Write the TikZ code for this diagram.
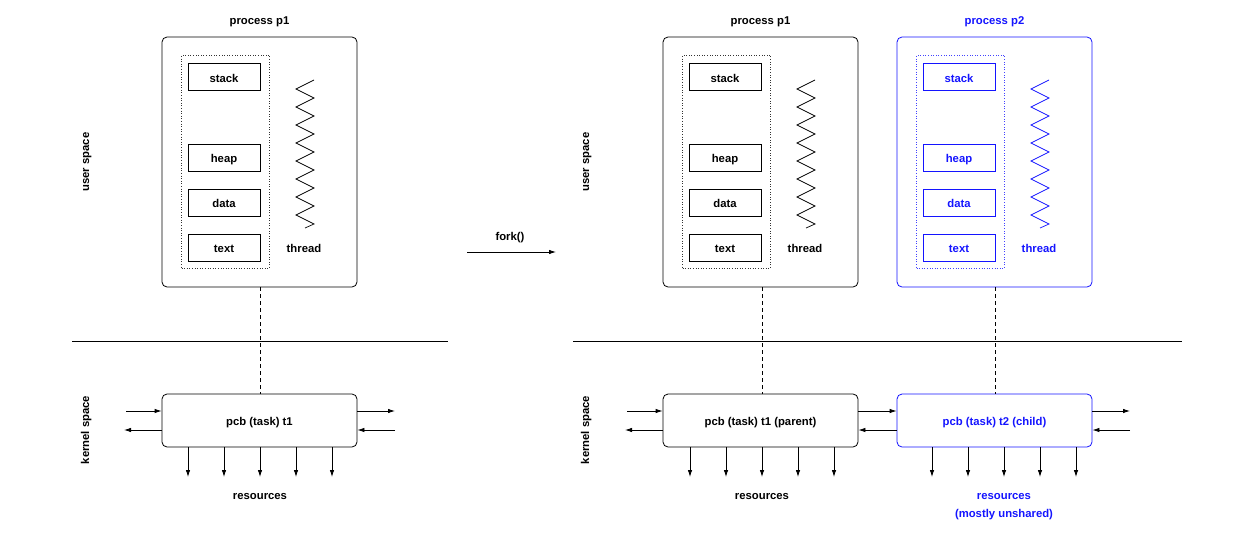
\documentclass[tikz,border=0pt]{standalone}
\usepackage{fontspec}
\setmainfont{Liberation Sans}
\usetikzlibrary{arrows.meta}
\definecolor{pblue}{RGB}{20,20,255}
\begin{document}
\begin{tikzpicture}[x=1pt,y=-1pt,
  every node/.style={font=\fontsize{11.3}{13.5}\selectfont\bfseries, inner sep=0pt, text height=10pt, text depth=0pt},
  procbox/.style={draw, rounded corners=5pt, minimum width=195pt, minimum height=250pt, line width=0.8pt},
  dotbox/.style={draw, dotted, minimum width=88pt, minimum height=213pt, line width=0.6pt},
  segbox/.style={draw, minimum width=72pt, minimum height=27pt, line width=0.8pt},
  pcbbox/.style={draw, rounded corners=5pt, minimum width=195pt, minimum height=53pt, line width=0.8pt},
  conn/.style={line width=0.8pt, -{Latex[length=7pt,width=4.5pt]}},
  dline/.style={line width=0.7pt, dash pattern=on 4pt off 3pt},
  sepline/.style={line width=0.8pt}
]
\useasboundingbox (0,0) rectangle (1248,538);

% ---------- processes (user space) ----------
\foreach \nm/\L/\col/\lab in {A/162/black/p1, B/663/black/p1, C/897/pblue/p2}{
  \begin{scope}[color=\col]
  \node[procbox, draw=\col] (proc\nm) at (\L+97.5,162) {};
  \node[text=\col] (plab\nm) at (\L+97.5,19) {process \lab};
  \node[dotbox, draw=\col!80!white] (dot\nm) at (\L+63.5,161.5) {};
  \node[segbox, draw=\col, text=\col] (stack\nm) at (\L+62,77) {stack};
  \node[segbox, draw=\col, text=\col] (heap\nm) at (\L+62,157.5) {heap};
  \node[segbox, draw=\col, text=\col] (data\nm) at (\L+62,202.5) {data};
  \node[segbox, draw=\col, text=\col] (text\nm) at (\L+62,247.5) {text};
  \node[text=\col] (thread\nm) at (\L+142,247.5) {thread};
  \draw[line width=0.7pt, \col] (\L+152,80)
    \foreach \i in {0,...,7}{ -- (\L+134,89+18*\i) -- (\L+152,98+18*\i) } -- (\L+143,228);
  \end{scope}
}

% ---------- separators ----------
\coordinate (s1a) at (72,341);
\coordinate (s1b) at (448,341);
\coordinate (s2a) at (573,341);
\coordinate (s2b) at (1182,341);
\draw[sepline] (s1a) -- (s1b);
\draw[sepline] (s2a) -- (s2b);

\node[rotate=90] (us1) at (84,162) {user space};
\node[rotate=90] (ks1) at (84,430) {kernel space};
\node[rotate=90] (us2) at (584,162) {user space};
\node[rotate=90] (ks2) at (584,430) {kernel space};

% ---------- fork ----------
\node (fork) at (510,235) {fork()};
\coordinate (fa) at (467,252);
\coordinate (fb) at (556,252);
\draw[conn] (fa) -- (fb);

% ---------- PCBs ----------
\node[pcbbox] (pcbA) at (259.5,420.5) {pcb (task) t1};
\node[pcbbox] (pcbB) at (760.5,420.5) {pcb (task) t1 (parent)};
\node[pcbbox, draw=pblue, text=pblue] (pcbC) at (994.5,420.5) {pcb (task) t2 (child)};

\draw[dline] (procA.south -| 260,0) -- (pcbA.north -| 260,0);
\draw[dline] (procB.south -| 762,0) -- (pcbB.north -| 762,0);
\draw[dline] (procC.south -| 995,0) -- (pcbC.north -| 995,0);

% side arrows left system
\coordinate (a1) at (126,411); \coordinate (a2) at (124,430);
\coordinate (a3) at (395,411); \coordinate (a4) at (395,430);
\draw[conn] (a1) -- (a1 -| pcbA.west);
\draw[conn] (a2 -| pcbA.west) -- (a2);
\draw[conn] (a3 -| pcbA.east) -- (a3);
\draw[conn] (a4) -- (a4 -| pcbA.east);

% side arrows right system
\coordinate (b1) at (627,411); \coordinate (b2) at (625,430);
\coordinate (b3) at (1130,411); \coordinate (b4) at (1130,430);
\draw[conn] (b1) -- (b1 -| pcbB.west);
\draw[conn] (b2 -| pcbB.west) -- (b2);
\draw[conn] (pcbB.east |- 0,411) -- (pcbC.west |- 0,411);
\draw[conn] (pcbC.west |- 0,430) -- (pcbB.east |- 0,430);
\draw[conn] (b3 -| pcbC.east) -- (b3);
\draw[conn] (b4) -- (b4 -| pcbC.east);

% resource arrows
\foreach \x [count=\k] in {188,224,260,296,332}{
  \coordinate (rA\k) at (\x,477);
  \draw[conn] (pcbA.south -| rA\k) -- (rA\k);
}
\foreach \x [count=\k] in {690,726,762,798,834}{
  \coordinate (rB\k) at (\x,477);
  \draw[conn] (pcbB.south -| rB\k) -- (rB\k);
}
\foreach \x [count=\k] in {932,968,1004,1040,1076}{
  \coordinate (rC\k) at (\x,477);
  \draw[conn] (pcbC.south -| rC\k) -- (rC\k);
}

\node (resA) at (260,494) {resources};
\node (resB) at (762,494) {resources};
\node[text=pblue] (resC) at (1004,494) {resources};
\node[text=pblue] (resC2) at (1004,512) {(mostly unshared)};
\end{tikzpicture}
\end{document}
